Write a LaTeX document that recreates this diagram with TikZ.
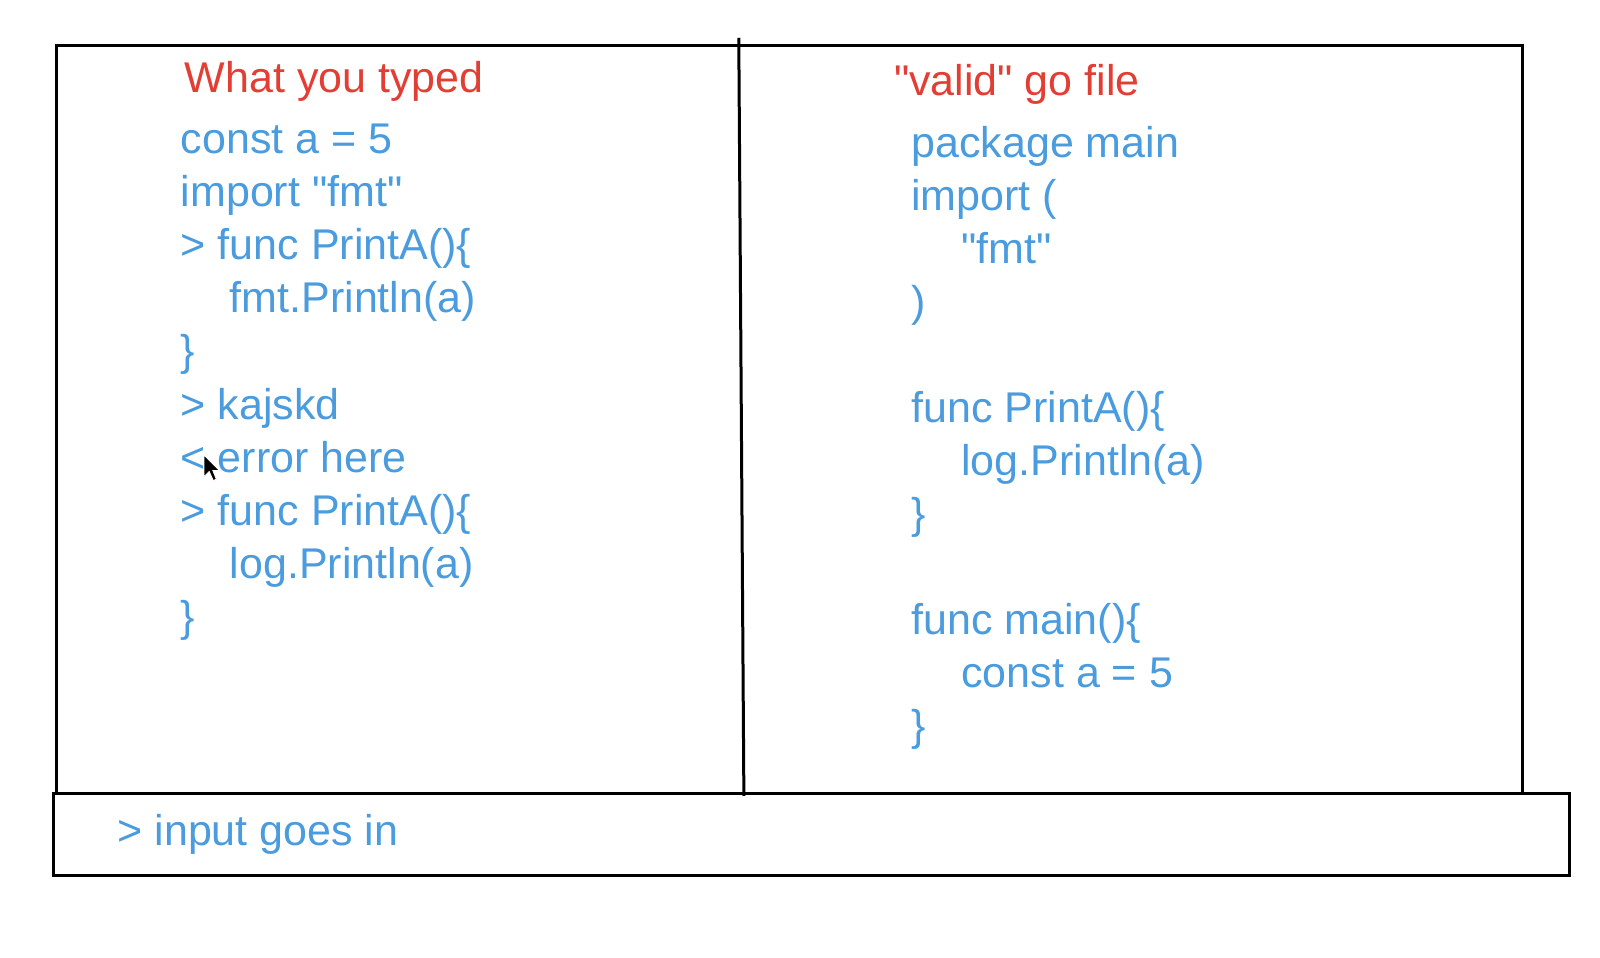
\documentclass[tikz,border=0pt]{standalone}
\usepackage{fontspec}
\setmainfont{Liberation Sans}
\definecolor{codeblue}{RGB}{74,156,222}
\definecolor{titlered}{RGB}{226,62,52}
\newcommand\myquote{\XeTeXglyph\XeTeXcharglyph"22\relax}
\begin{document}
\begin{tikzpicture}[x=1.0204pt,y=-1.0204pt,
  txt/.style={anchor=base west,inner sep=0pt,font=\fontsize{43}{51}\selectfont},
  code/.style={txt,text=codeblue},
  title/.style={txt,text=titlered},
  frame/.style={draw=black,line width=3pt}]
\useasboundingbox (0,0) rectangle (1568,937.9);
% frames
\draw[frame] (55,45) rectangle (1492,778);
\draw[frame] (52,778) rectangle (1538,858);
\coordinate (dtop) at (724,37);
\coordinate (dbot) at (729,780);
\draw[frame] (dtop) -- (dbot);
% left column
\node[title] (t1) at (181,91) {What you typed};
\node[code] (l1) at (177,150) {const a = 5};
\node[code] (l2) at (177,202) {import \myquote fmt\myquote};
\node[code] (l3) at (177,254) {> func PrintA()\{};
\node[code] (l4) at (225,306) {fmt.Println(a)};
\node[code] (l5) at (177,358) {\}};
\node[code] (l6) at (177,411) {> kajskd};
\node[code] (l7) at (177,463) {< error here};
\node[code] (l8) at (177,515) {> func PrintA()\{};
\node[code] (l9) at (225,567) {log.Println(a)};
\node[code] (l10) at (177,619) {\}};
% right column
\node[title] (t2) at (876,94) {\myquote valid\myquote{} go file};
\node[code] (r1) at (893,154) {package main};
\node[code] (r2) at (893,206) {import (};
\node[code] (r3) at (942,258) {\myquote fmt\myquote};
\node[code] (r4) at (893,310) {)};
\node[code] (r5) at (893,414) {func PrintA()\{};
\node[code] (r6) at (942,466) {log.Println(a)};
\node[code] (r7) at (893,518) {\}};
\node[code] (r8) at (893,622) {func main()\{};
\node[code] (r9) at (942,674) {const a = 5};
\node[code] (r10) at (893,726) {\}};
% input line
\node[code] (in) at (115,829) {> input goes in};
% mouse cursor
\filldraw[fill=black,draw=white,line width=0.8pt]
  (200,446) -- (200,467) -- (205,462) -- (209,471) -- (212,469.5) -- (208.5,461) -- (215,461) -- cycle;
\end{tikzpicture}
\end{document}
